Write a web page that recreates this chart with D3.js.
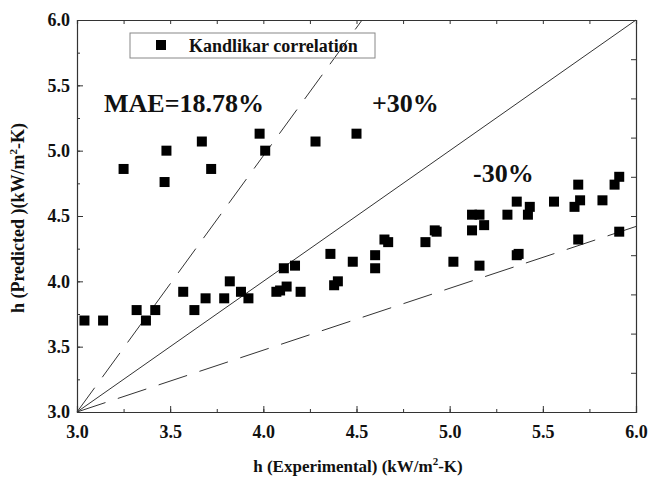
<!DOCTYPE html>
<html>
  <head>
    <script src="https://d3js.org/d3.v7.min.js"></script>
    <style>
      body { margin: 0; background: #fff; }
      text { font-family: "Liberation Serif", "Times New Roman", serif; font-weight: bold; fill: #111; }
    </style>
  </head>
  <body>
    <script>
      // data
      var expH = [3.25, 3.47, 3.48, 3.67, 3.72, 3.98, 4.01, 4.28, 4.50,
                  3.04, 3.14, 3.32, 3.37, 3.42, 3.57, 3.63, 3.69, 3.79, 3.82,
                  3.88, 3.92, 4.07, 4.09, 4.11, 4.125, 4.17, 4.20, 4.36, 4.38,
                  4.40, 4.48, 4.60, 4.60, 4.65, 4.67, 4.87, 4.92, 4.93, 5.02,
                  5.12, 5.16, 5.12, 5.185, 5.16, 5.31, 5.36, 5.43, 5.42, 5.36,
                  5.37, 5.56, 5.69, 5.70, 5.67, 5.69, 5.82, 5.885, 5.91, 5.91];
      var predH = [4.86, 4.76, 5.00, 5.07, 4.86, 5.13, 5.00, 5.07, 5.13,
                   3.70, 3.70, 3.78, 3.70, 3.78, 3.92, 3.78, 3.87, 3.87, 4.00,
                   3.92, 3.87, 3.92, 3.93, 4.10, 3.96, 4.12, 3.92, 4.21, 3.97,
                   4.00, 4.15, 4.20, 4.10, 4.32, 4.30, 4.30, 4.39, 4.38, 4.15,
                   4.51, 4.51, 4.39, 4.43, 4.12, 4.51, 4.61, 4.57, 4.51, 4.20,
                   4.21, 4.61, 4.74, 4.62, 4.57, 4.32, 4.62, 4.74, 4.80, 4.38];
      var tickVals = [3.0, 3.5, 4.0, 4.5, 5.0, 5.5, 6.0];
      var upperLine = [[3, 3], [4.53, 6]];
      var lowerLine = [[3, 3], [6, 4.42]];
      var diagLine = [[3, 3], [6, 6]];

      var W = 662, H = 478;
      var pL = 77, pR = 636, pT = 20, pB = 412;

      var x = d3.scaleLinear().domain([3, 6]).range([pL, pR]);
      var y = d3.scaleLinear().domain([3, 6]).range([pB, pT]);

      var svg = d3.select("body").append("svg")
          .attr("width", W)
          .attr("height", H);

      // reference lines
      var line = d3.line().x(function(d) { return x(d[0]); }).y(function(d) { return y(d[1]); });
      svg.append("path").attr("d", line(diagLine))
          .attr("stroke", "#333").attr("stroke-width", 1).attr("fill", "none");
      svg.append("path").attr("d", line(upperLine))
          .attr("stroke", "#333").attr("stroke-width", 1).attr("fill", "none")
          .attr("stroke-dasharray", "30,13");
      svg.append("path").attr("d", line(lowerLine))
          .attr("stroke", "#333").attr("stroke-width", 1).attr("fill", "none")
          .attr("stroke-dasharray", "30,13");

      // points
      var sz = 10;
      svg.selectAll(".pt")
          .data(expH.map(function(v, i) { return [v, predH[i]]; }))
        .enter().append("rect")
          .attr("class", "pt")
          .attr("x", function(d) { return x(d[0]) - sz / 2; })
          .attr("y", function(d) { return y(d[1]) - sz / 2; })
          .attr("width", sz)
          .attr("height", sz)
          .attr("fill", "#000");

      // axes, ticks inward
      var minor = d3.range(3, 6.01, 0.25);
      svg.append("g")
          .attr("transform", "translate(0," + pB + ")")
          .call(d3.axisBottom(x).tickValues(minor).tickSize(-3).tickFormat(""))
          .call(function(g) { g.select(".domain").remove(); });
      svg.append("g")
          .attr("class", "xax")
          .attr("transform", "translate(0," + pB + ")")
          .call(d3.axisBottom(x).tickValues(tickVals).tickSize(-6).tickPadding(13).tickFormat(d3.format(".1f")));
      svg.append("g")
          .attr("transform", "translate(" + pL + ",0)")
          .call(d3.axisLeft(y).tickValues(minor).tickSize(-3).tickFormat(""))
          .call(function(g) { g.select(".domain").remove(); });
      svg.append("g")
          .attr("class", "yax")
          .attr("transform", "translate(" + pL + ",0)")
          .call(d3.axisLeft(y).tickValues(tickVals).tickSize(-6).tickPadding(7).tickFormat(d3.format(".1f")));
      svg.append("g")
          .attr("transform", "translate(0," + pT + ")")
          .call(d3.axisTop(x).tickValues(minor).tickSize(-4).tickFormat(""));
      svg.append("g")
          .attr("transform", "translate(" + pR + ",0)")
          .call(d3.axisRight(y).tickValues(d3.range(3, 6.01, 0.3)).tickSize(-5).tickFormat(""));

      svg.selectAll(".domain").attr("stroke", "#333").attr("stroke-width", 1.2);
      svg.selectAll(".tick line").attr("stroke", "#333");
      svg.selectAll(".xax text, .yax text").style("font-size", "18px").attr("fill", "#111");

      // legend
      svg.append("rect")
          .attr("x", 130).attr("y", 33).attr("width", 245).attr("height", 25)
          .attr("fill", "none").attr("stroke", "#888").attr("stroke-width", 1);
      svg.append("rect")
          .attr("x", 156).attr("y", 40).attr("width", sz).attr("height", sz).attr("fill", "#000");
      svg.append("text").attr("x", 189).attr("y", 52)
          .style("font-size", "18px").text("Kandlikar correlation");

      // annotations
      svg.append("text").attr("x", 104).attr("y", 112).style("font-size", "26px").text("MAE=18.78%");
      svg.append("text").attr("x", 372).attr("y", 112).style("font-size", "26px").text("+30%");
      svg.append("text").attr("x", 473).attr("y", 182).style("font-size", "26px").text("-30%");

      // axis titles
      var xt = svg.append("text").attr("x", 358).attr("y", 472)
          .attr("text-anchor", "middle").style("font-size", "17px");
      xt.append("tspan").text("h (Experimental) (kW/m");
      xt.append("tspan").attr("dy", -7).style("font-size", "11px").text("2");
      xt.append("tspan").attr("dy", 7).text("-K)");

      var yt = svg.append("text")
          .attr("transform", "translate(24,218) rotate(-90)")
          .attr("text-anchor", "middle").style("font-size", "18px");
      yt.append("tspan").text("h (Predicted )(kW/m");
      yt.append("tspan").attr("dy", -7).style("font-size", "11px").text("2");
      yt.append("tspan").attr("dy", 7).text("-K)");
    </script>
  </body>
</html>
